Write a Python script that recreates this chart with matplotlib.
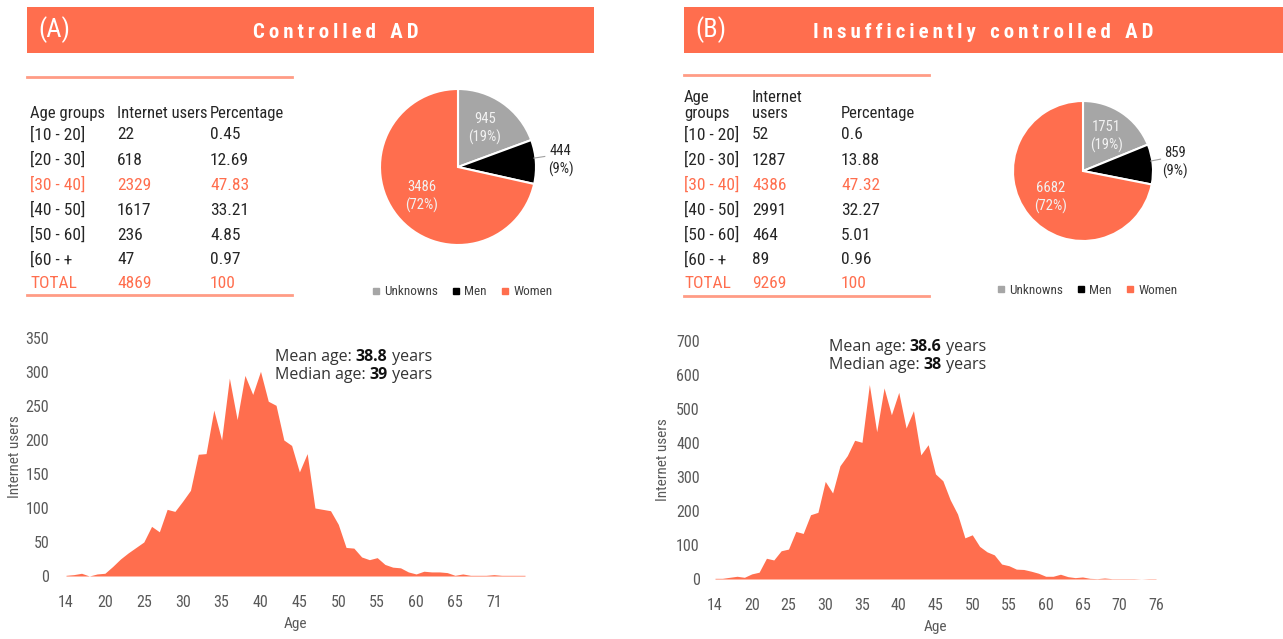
import matplotlib
matplotlib.use("Agg")
import matplotlib.pyplot as plt
from matplotlib.patches import Rectangle
from matplotlib.lines import Line2D
from matplotlib.offsetbox import TextArea, HPacker, VPacker, AnnotationBbox
import numpy as np

W, H = 1283, 639
ORANGE = "#FF6E4E"
LINE_ORANGE = "#FF9C85"
GREY = "#A6A6A6"
TXT = "#262626"
TICK = "#595959"
COND = ["Roboto Condensed", "Liberation Sans Narrow", "DejaVu Sans"]
ROUND = ["Open Sans", "DejaVu Sans"]

# ---- panel A data ----
TABLE_A_HEAD = ["Age groups", "Internet users", "Percentage"]
GROUPS = ["[10 - 20]", "[20 - 30]", "[30 - 40]", "[40 - 50]", "[50 - 60]", "[60 - +"]
USERS_GRP_A = ["22", "618", "2329", "1617", "236", "47"]
PCT_GRP_A = ["0.45", "12.69", "47.83", "33.21", "4.85", "0.97"]
TOTAL_A = ["TOTAL", "4869", "100"]

# ---- panel B data ----
TABLE_B_HEAD = ["Age\ngroups", "Internet\nusers", "Percentage"]
USERS_GRP_B = ["52", "1287", "4386", "2991", "464", "89"]
PCT_GRP_B = ["0.6", "13.88", "47.32", "32.27", "5.01", "0.96"]
TOTAL_B = ["TOTAL", "9269", "100"]

SEX_LABELS = ["Unknowns", "Men", "Women"]
SEX_COLORS = [GREY, "#000000", ORANGE]
SEX_A = [945, 444, 3486]
SEX_B = [1751, 859, 6682]

AGES_A = [14, 15, 16, 17, 18, 20, 21, 22, 23, 24, 25, 26, 27, 28, 29, 30, 31,
          32, 33, 34, 35, 36, 37, 38, 39, 40, 41, 42, 43, 44, 45, 46, 47, 48,
          49, 50, 51, 52, 53, 54, 55, 56, 57, 58, 59, 60, 61, 62, 63, 64, 65,
          66, 67, 68, 69, 71, 72, 73, 74, 75]
USERS_A = [1, 2, 4, 0, 3, 4, 14, 25, 34, 42, 50, 73, 65, 98, 95, 110, 126,
           179, 180, 244, 200, 291, 230, 295, 267, 301, 257, 251, 200, 192,
           153, 180, 100, 98, 96, 76, 42, 41, 28, 24, 27, 17, 13, 12, 6, 3, 7,
           6, 6, 5, 1, 3, 1, 1, 1, 2, 1, 1, 1, 1]

AGES_B = [14, 15, 16, 17, 18, 20, 21, 22, 23, 24, 25, 26, 27, 28, 29, 30, 31,
          32, 33, 34, 35, 36, 37, 38, 39, 40, 41, 42, 43, 44, 45, 46, 47, 48,
          49, 50, 51, 52, 53, 54, 55, 56, 57, 58, 59, 60, 61, 62, 63, 64, 65,
          66, 67, 68, 69, 70, 71, 72, 73, 74, 76]
USERS_B = [2, 2, 5, 8, 5, 15, 20, 61, 56, 83, 88, 140, 134, 189, 196, 287,
           253, 333, 363, 408, 402, 572, 433, 562, 483, 549, 444, 495, 365,
           395, 309, 289, 233, 191, 121, 130, 96, 80, 71, 44, 39, 29, 28, 23,
           17, 8, 8, 14, 7, 4, 6, 2, 1, 3, 1, 1, 1, 1, 0, 1, 1]


def fx(px):
    return px / W


def fy(py):
    return 1 - py / H


def px_axes(fig, x0, x1, y_top, y_bot):
    return fig.add_axes([fx(x0), fy(y_bot), (x1 - x0) / W, (y_bot - y_top) / H])


def spaced(s):
    return "   ".join("\u2009".join(w) for w in s.split(" "))


def banner(fig, x0, x1, tag, title, title_cx):
    fig.patches.append(Rectangle((fx(x0), fy(53)), (x1 - x0) / W, 46 / H,
                                 transform=fig.transFigure, color=ORANGE, lw=0))
    fig.text(fx(x0 + 11), fy(30), tag, color="white", fontsize=19,
             family=COND, va="center", ha="left")
    fig.text(fx(title_cx), fy(32), spaced(title), color="white", fontsize=15,
             family=COND, fontweight="bold", va="center", ha="center")


def table(fig, cols_x, head, users, pct, total, head_y, line_x, line_top, line_bot):
    fig.add_artist(Line2D([fx(line_x[0]), fx(line_x[1])], [fy(line_top)] * 2,
                          color=LINE_ORANGE, lw=2))
    fig.add_artist(Line2D([fx(line_x[0]), fx(line_x[1])], [fy(line_bot)] * 2,
                          color=LINE_ORANGE, lw=2))
    for x, h in zip(cols_x, head):
        fig.text(fx(x), fy(head_y), h, fontsize=12, family=COND, color=TXT,
                 va="bottom", ha="left", linespacing=1.05)
    rows_y = [135, 160, 185, 210, 235, 260]
    for i, y in enumerate(rows_y):
        c = ORANGE if GROUPS[i] == "[30 - 40]" else TXT
        for x, t in zip(cols_x, [GROUPS[i], users[i], pct[i]]):
            fig.text(fx(x), fy(y), t, fontsize=12.5, family=COND, color=c,
                     va="center", ha="left")
    for x, t in zip(cols_x, total):
        fig.text(fx(x), fy(284), t, fontsize=12.5, family=COND, color=ORANGE,
                 va="center", ha="left")


def pie(fig, cx, cy, r, values, legend_cx, legend_y):
    size = 220
    ax = px_axes(fig, cx - size / 2, cx + size / 2, cy - size / 2, cy + size / 2)
    lim = size / (2 * r)
    wedges, _ = ax.pie(values, colors=SEX_COLORS, startangle=90, counterclock=False,
                       wedgeprops=dict(edgecolor="white", linewidth=1.5))
    ax.set_xlim(-lim, lim)
    ax.set_ylim(-lim, lim)
    ax.set_aspect("equal")
    ax.axis("off")
    total = sum(values)
    for w, v in zip(wedges, values):
        ang = np.deg2rad((w.theta1 + w.theta2) / 2)
        lab = f"{v}\n({round(100 * v / total)}%)"
        if w.get_facecolor()[:3] == (0.0, 0.0, 0.0):
            tx, ty = 1.32 * np.cos(ang), 1.32 * np.sin(ang)
            ax.text(tx, ty, lab, ha="center", va="center", fontsize=10.5,
                    family=COND, color=TXT, linespacing=1.3)
            ax.plot([0.98 * np.cos(ang + 0.05), 1.12 * np.cos(ang + 0.05)],
                    [0.98 * np.sin(ang + 0.05), 1.16 * np.sin(ang + 0.05)],
                    color="#A0A0A0", lw=0.8, clip_on=False)
        else:
            tx, ty = 0.6 * np.cos(ang), 0.6 * np.sin(ang)
            ax.text(tx, ty, lab, ha="center", va="center", fontsize=10.5,
                    family=COND, color="#F2F2F2", linespacing=1.3)
    handles = [Line2D([], [], marker="s", ls="", color=c, markersize=5)
               for c in SEX_COLORS]
    fig.legend(handles, SEX_LABELS, loc="center", ncol=3, frameon=False,
               bbox_to_anchor=(fx(legend_cx), fy(legend_y)),
               prop=dict(family=COND, size=9.5), labelcolor="#404040",
               handletextpad=0.1, columnspacing=0.9, handlelength=1.0)


def area(fig, ages, users, x0, x1, y_top, y_bot, ymax, ystep, ypad, ylab_x):
    ax = px_axes(fig, x0, x1, y_top, y_bot)
    idx = np.arange(len(ages))
    ax.fill_between(idx, users, color=ORANGE, lw=0)
    ax.set_xlim(0, len(ages) - 1)
    ax.set_ylim(0, ymax)
    ax.set_yticks(np.arange(0, ymax + 1, ystep))
    ax.set_xticks(idx[::5])
    ax.set_xticklabels([str(a) for a in ages[::5]])
    for s in ax.spines.values():
        s.set_visible(False)
    ax.tick_params(length=0, labelsize=11.5, labelcolor=TICK)
    ax.tick_params(axis="y", pad=ypad)
    ax.tick_params(axis="x", pad=14)
    for lbl in ax.get_xticklabels() + ax.get_yticklabels():
        lbl.set_family(COND)
    ax.set_xlabel("Age", family=COND, fontsize=11, color=TICK, labelpad=5)
    fig.text(fx(ylab_x), fy((y_top + y_bot) / 2), "Internet users", rotation=90,
             family=COND, fontsize=11, color=TICK, ha="center", va="center")
    return ax


def stat_note(fig, x, y_mid, mean, median):
    def line(pre, val):
        return HPacker(children=[
            TextArea(pre, textprops=dict(family=ROUND, size=11.5, color="#333333")),
            TextArea(val, textprops=dict(family=ROUND, size=11.5, color="#111111",
                                         fontweight="bold")),
            TextArea(" years", textprops=dict(family=ROUND, size=11.5, color="#333333")),
        ], pad=0, sep=0, align="baseline")
    box = VPacker(children=[line("Mean age: ", mean), line("Median age: ", median)],
                  pad=0, sep=2, align="left")
    ab = AnnotationBbox(box, (x, H - y_mid), xycoords="figure pixels",
                        box_alignment=(0, 0.5), frameon=False, pad=0)
    fig.add_artist(ab)


fig = plt.figure(figsize=(W / 100, H / 100), dpi=100)

banner(fig, 27, 594, "(A)", "Controlled AD", 336)
banner(fig, 684, W, "(B)", "Insufficiently controlled AD", 983)

table(fig, [30, 117, 210], TABLE_A_HEAD, USERS_GRP_A, PCT_GRP_A, TOTAL_A,
      121, (27, 292), 77, 295)
table(fig, [684, 752, 841], TABLE_B_HEAD, USERS_GRP_B, PCT_GRP_B, TOTAL_B,
      121, (684, 929), 75, 296)

pie(fig, 458, 167, 78, SEX_A, 461, 292)
pie(fig, 1083, 171, 70, SEX_B, 1086, 290)

area(fig, AGES_A, USERS_A, 66, 525, 338, 576, 350, 50, 12, 15)
area(fig, AGES_B, USERS_B, 715, 1156, 341, 579, 700, 100, 11, 663)

stat_note(fig, 275, 366, "38.8", "39")
stat_note(fig, 829, 356, "38.6", "38")

fig.savefig("out.png", dpi=100)
